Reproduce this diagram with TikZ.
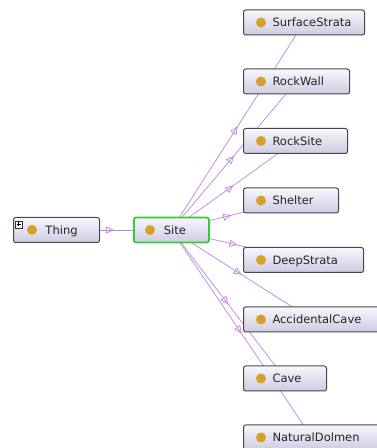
\documentclass[tikz,border=0pt]{standalone}
\usepackage{fontspec}
\setmainfont{DejaVu Sans}
\usetikzlibrary{arrows.meta,decorations.markings,backgrounds}
\definecolor{edgec}{RGB}{192,132,222}
\definecolor{dotc}{RGB}{215,160,40}
\definecolor{boxtop}{RGB}{247,247,252}
\definecolor{boxbot}{RGB}{204,204,226}
\definecolor{selc}{RGB}{50,205,50}
\newcommand\clslabel[3]{\makebox[#1][l]{\hspace*{#2}\smash{#3}\vphantom{T}}}
\tikzset{
  cls/.style={draw=black!72, line width=1pt, rounded corners=2.2pt,
    top color=boxtop, bottom color=boxbot, minimum height=25pt,
    inner sep=0pt, anchor=west, text=black!85,
    font=\fontsize{11.5}{13}\selectfont},
  selcls/.style={cls, draw=selc, line width=1.8pt},
  isa/.style={draw=edgec, line width=0.7pt, postaction={decorate},
    decoration={markings, mark=at position 0.5 with {\arrow{Triangle[open, length=8pt, width=7pt]}}}},
  clsdot/.style={fill=dotc},
}
\begin{document}
\begin{tikzpicture}[x=1pt,y=1pt]
\useasboundingbox (0,0) rectangle (376,448);
\node[cls] (thing) at (13,218) {\clslabel{86pt}{32pt}{Thing}};
\node[selcls] (site) at (133,218) {\clslabel{75pt}{30pt}{Site}};
\node[cls] (ss) at (243,425.5) {\clslabel{121pt}{29pt}{SurfaceStrata}};
\node[cls] (rw) at (243,366.5) {\clslabel{106pt}{29pt}{RockWall}};
\node[cls] (rs) at (243,307) {\clslabel{104pt}{29pt}{RockSite}};
\node[cls] (sh) at (243,247.5) {\clslabel{95pt}{29pt}{Shelter}};
\node[cls] (ds) at (243,188) {\clslabel{120pt}{29pt}{DeepStrata}};
\node[cls] (ac) at (243,128.5) {\clslabel{137pt}{29pt}{AccidentalCave}};
\node[cls] (cv) at (243,69.5) {\clslabel{83pt}{29pt}{Cave}};
\node[cls] (nd) at (243,10.5) {\clslabel{137pt}{29pt}{NaturalDolmen}};
\foreach \n in {ss,rw,rs,sh,ds,ac,cv,nd}
  \fill[clsdot] ([xshift=18pt]\n.west) circle (5pt);
\fill[clsdot] ([xshift=19pt]thing.west) circle (5pt);
\fill[clsdot] ([xshift=17pt]site.west) circle (5pt);
% expand icon
\node[draw=black!80, fill=white, line width=0.6pt, minimum size=7pt, inner sep=0pt] (plus) at (18.5,223.5) {};
\draw[black, line width=0.6pt] ([xshift=-2pt]plus.center) -- ([xshift=2pt]plus.center)
  ([yshift=-2pt]plus.center) -- ([yshift=2pt]plus.center);
\begin{pgfonlayer}{background}
\foreach \t in {ss,rw,rs,sh,ds,ac,cv,nd}
  \draw[isa] (site.center) -- (\t.center);
\draw[isa] (thing.center) -- (site.center);
\end{pgfonlayer}
\end{tikzpicture}
\end{document}
